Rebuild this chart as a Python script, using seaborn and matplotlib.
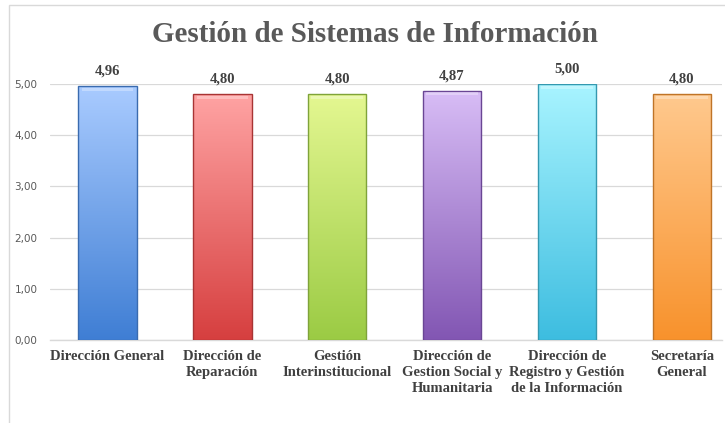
import matplotlib
matplotlib.use("Agg")
import matplotlib.pyplot as plt
import numpy as np
import pandas as pd
import seaborn as sns
from matplotlib.colors import LinearSegmentedColormap
from matplotlib.patches import Rectangle

# data
areas = ["Dirección General", "Dirección de\nReparación", "Gestión\nInterinstitucional",
         "Dirección de\nGestion Social y\nHumanitaria",
         "Dirección de\nRegistro y Gestión\nde la Información", "Secretaría\nGeneral"]
scores = [4.96, 4.80, 4.80, 4.87, 5.00, 4.80]
top_colors = ["#A9CBFF", "#FFA3A3", "#E4F791", "#D8BDF6", "#A8F4FF", "#FFC98E"]
bottom_colors = ["#3F7ED4", "#D63F3F", "#9BCB44", "#8256B3", "#3DBDE0", "#F8922C"]
edge_colors = ["#3A6BAF", "#A83434", "#7FA33A", "#6A4694", "#3598AF", "#BF7428"]

df = pd.DataFrame({"area": areas, "score": scores})

sns.set_style("white")
plt.rcParams["font.family"] = ["Liberation Serif", "DejaVu Serif"]

fig = plt.figure(figsize=(7.25, 4.23), dpi=100)
ax = fig.add_axes([50 / 725, (423 - 340) / 423, (722 - 50) / 725, 256 / 423])

sns.barplot(data=df, x="area", y="score", ax=ax, width=0.51, color="white",
            saturation=1, zorder=3)

# gradient fill clipped to each bar
for bar, c0, c1, ec in zip(ax.patches, top_colors, bottom_colors, edge_colors):
    x0, y0 = bar.get_x(), bar.get_y()
    w, h = bar.get_width(), bar.get_height()
    cmap = LinearSegmentedColormap.from_list("g", [c1, c0])
    grad = np.linspace(0, 1, 256).reshape(-1, 1)
    im = ax.imshow(grad, cmap=cmap, origin="lower", aspect="auto",
                   extent=(x0, x0 + w, y0, y0 + h), zorder=3)
    im.set_clip_path(bar)
    bar.set_edgecolor(ec)
    bar.set_linewidth(1.0)
    bar.set_zorder(4)
    bar.set_facecolor("none")
    # soft highlight near top edge
    hl = Rectangle((x0 + w * 0.06, y0 + h - 0.09), w * 0.88, 0.06,
                   facecolor="white", alpha=0.3, edgecolor="none", zorder=4)
    ax.add_patch(hl)

for i, v in enumerate(scores):
    ax.annotate(f"{v:.2f}".replace(".", ","), (i, v), xytext=(0, 6),
                textcoords="offset points", ha="center", va="bottom",
                fontsize=10.5, fontweight="bold", color="#404040")

ax.set_xlim(-0.5, 5.35)
ax.set_ylim(0, 5)
ax.set_yticks(np.arange(0, 5.01, 1))
ax.set_yticklabels([f"{t:.2f}".replace(".", ",") for t in np.arange(0, 5.01, 1)],
                   fontfamily="DejaVu Sans", fontsize=7.5, color="#595959")
ax.grid(axis="y", color="#D9D9D9", linewidth=0.9, zorder=0)
ax.tick_params(axis="y", length=0, pad=9)
ax.tick_params(axis="x", length=0, pad=7)
for lbl in ax.get_xticklabels():
    lbl.set_fontweight("bold")
    lbl.set_fontsize(10.5)
    lbl.set_color("#404040")
    lbl.set_linespacing(1.3)
for s in ["top", "right", "left"]:
    ax.spines[s].set_visible(False)
ax.spines["bottom"].set_color("#D9D9D9")
ax.spines["bottom"].set_linewidth(1.0)
ax.set_xlabel("")
ax.set_ylabel("")

fig.text(375 / 725, 1 - 34 / 423, "Gestión de Sistemas de Información",
         ha="center", va="center", fontsize=21, fontweight="bold", color="#595959")

# chart border
fig.patches.append(Rectangle((9 / 725, -0.1), 1.2, 1 - 5 / 423 + 0.1,
                             transform=fig.transFigure, fill=False,
                             edgecolor="#D9D9D9", linewidth=1.0))

fig.savefig("out.png", dpi=100)
